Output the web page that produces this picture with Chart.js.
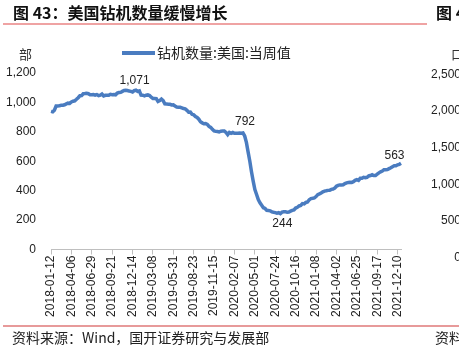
<!DOCTYPE html>
<html lang="zh">
<head>
<meta charset="utf-8" />
<title>美国钻机数量</title>
<script src="https://cdn.jsdelivr.net/npm/chart.js"></script>
<style>
  body { margin: 0; background: #fff; }
  canvas { display: block; }
</style>
</head>
<body>
<canvas id="rigs" width="459" height="354"></canvas>
<script>
// 钻机数量:美国:当周值 (weekly, from 2018-01-12)
const startDate = '2018-01-12';
const rigs2018 = [939, 936, 947, 975, 975, 978, 980, 981, 984, 990, 995, 993, 1003, 1008, 1011, 1021,
  1032, 1045, 1046, 1059, 1060, 1062, 1059, 1052, 1052, 1054, 1050, 1053, 1046, 1049, 1057, 1044,
  1048, 1048, 1048, 1055, 1053, 1054, 1052, 1063, 1067, 1068, 1075, 1081, 1082, 1081, 1077, 1075,
  1071, 1080, 1083];
const rigs2019 = [1075, 1078, 1050, 1049, 1045, 1049, 1051, 1047, 1035, 1027, 1026, 1025, 1006, 1012,
  1022, 1012, 991, 990, 988, 987, 983, 984, 975, 969, 967, 967, 963, 958, 956, 946, 934, 935, 919,
  916, 904, 898, 886, 868, 861, 855, 856, 851, 837, 830, 817, 806, 803, 802, 799, 804, 805, 805];
const rigs2020 = [796, 781, 796, 790, 796, 790, 790, 790, 792, 790, 792, 772, 728, 664, 602, 529, 465,
  408, 374, 339, 318, 301, 284, 279, 266, 265, 263, 256, 253, 251, 247, 250, 244, 254, 256, 256,
  254, 255, 261, 266, 269, 282, 287, 296, 299, 312, 310, 320, 323, 338, 346, 348];
const rigs2021 = [351, 360, 373, 378, 384, 392, 397, 399, 402, 403, 409, 411, 417, 430, 436, 439, 439,
  440, 448, 453, 455, 457, 456, 461, 470, 475, 470, 484, 484, 491, 488, 491, 500, 503, 508, 503,
  503, 512, 521, 528, 533, 543, 543, 544, 550, 556, 563, 569, 569, 576, 579, 586];
const rigValues = [].concat(rigs2018, rigs2019, rigs2020, rigs2021);

const tickLabels = ['2018-01-12', '2018-04-06', '2018-06-29', '2018-09-21', '2018-12-14', '2019-03-08',
  '2019-05-31', '2019-08-23', '2019-11-15', '2020-02-07', '2020-05-01', '2020-07-24', '2020-10-16',
  '2021-01-08', '2021-04-02', '2021-06-25', '2021-09-17', '2021-12-10'];

// labelled points: index into rigValues, label above or below
const noteIdx = [48, 113, 135, 201];
const noteBelow = [false, false, true, false];

const yTicks = [0, 200, 400, 600, 800, 1000, 1200];
const rightTicks = ['2,500', '2,000', '1,500', '1,000', '500', '0'];

// weekly category labels
const weekLabels = [];
let d = new Date(startDate + 'T00:00:00Z');
for (let i = 0; i < rigValues.length; i++) {
  weekLabels.push(d.toISOString().slice(0, 10));
  d = new Date(d.getTime() + 7 * 86400000);
}

const fmt = v => v.toLocaleString('en-US');

const pageText = {
  id: 'pageText',
  beforeDraw(chart) {
    const c = chart.ctx;
    c.save();
    c.fillStyle = '#fff';
    c.fillRect(0, 0, chart.width, chart.height);
    c.restore();
  },
  afterDraw(chart) {
    const c = chart.ctx;
    c.save();
    c.textBaseline = 'middle';
    c.fillStyle = '#111';
    // title
    c.font = 'bold 16px "Noto Sans CJK SC"';
    c.textAlign = 'left';
    c.fillText('图 43：美国钻机数量缓慢增长', 13, 13);
    c.fillText('图 4', 436, 13);
    c.strokeStyle = '#e04848';
    c.lineWidth = 1.2;
    c.beginPath(); c.moveTo(3, 24); c.lineTo(427, 24); c.stroke();

    // unit + legend
    c.font = '13px "Noto Sans CJK SC"';
    c.fillStyle = '#333';
    c.fillText('部', 19, 54);
    c.fillText('口', 451, 54);
    c.strokeStyle = '#4a7cc0';
    c.lineWidth = 4;
    c.beginPath(); c.moveTo(122, 53); c.lineTo(155, 53); c.stroke();
    c.font = '14px "Noto Sans CJK SC"';
    c.fillStyle = '#222';
    c.fillText('钻机数量:美国:当周值', 157, 53);

    // right-hand neighbour axis fragment
    c.font = '12px "Liberation Sans"';
    c.textAlign = 'right';
    c.fillStyle = '#222';
    rightTicks.forEach((t, i) => c.fillText(t, 461, 74.3 + i * 36.7));

    // footer
    c.strokeStyle = '#e79a9a';
    c.lineWidth = 2;
    c.beginPath(); c.moveTo(3, 326); c.lineTo(459, 326); c.stroke();
    c.textAlign = 'left';
    c.font = '14px "Noto Sans CJK SC"';
    c.fillStyle = '#222';
    c.fillText('资料来源：Wind，国开证券研究与发展部', 12, 338);
    c.fillText('资料', 435, 338);
    c.restore();
  }
};

const pointNotes = {
  id: 'pointNotes',
  afterDatasetsDraw(chart) {
    const c = chart.ctx;
    const meta = chart.getDatasetMeta(0);
    c.save();
    c.font = '12px "Liberation Sans"';
    c.fillStyle = '#222';
    c.textAlign = 'center';
    c.textBaseline = 'middle';
    noteIdx.forEach((idx, k) => {
      const p = meta.data[idx];
      const dy = noteBelow[k] ? 10 : -11;
      c.fillText(fmt(rigValues[idx]), p.x + 2, p.y + dy);
    });
    c.restore();
  }
};

new Chart(document.getElementById('rigs'), {
  type: 'line',
  data: {
    labels: weekLabels,
    datasets: [{
      label: '钻机数量:美国:当周值',
      data: rigValues,
      borderColor: '#4a7cc0',
      borderWidth: 3.5,
      pointRadius: 0,
      tension: 0,
      fill: false
    }]
  },
  options: {
    responsive: false,
    devicePixelRatio: 1,
    animation: false,
    layout: { padding: { top: 73, right: 58, left: 0, bottom: 0 } },
    plugins: { legend: { display: false }, tooltip: { enabled: false } },
    scales: {
      x: {
        type: 'category',
        offset: false,
        afterBuildTicks(scale) {
          scale.ticks = scale.ticks.filter(t => tickLabels.includes(weekLabels[t.value]));
        },
        afterFit(scale) { scale.height = 104.5; },
        ticks: {
          autoSkip: false,
          minRotation: 90,
          maxRotation: 90,
          padding: 1,
          color: '#222',
          font: { family: 'Liberation Sans', size: 12 }
        },
        grid: { display: true, drawOnChartArea: false, drawTicks: true, tickLength: 5, color: '#bfbfbf' },
        border: { display: true, color: '#bfbfbf', width: 1 }
      },
      y: {
        min: 0,
        max: 1200,
        afterBuildTicks(scale) { scale.ticks = yTicks.map(v => ({ value: v })); },
        afterFit(scale) { scale.width = 51; },
        ticks: {
          padding: 15,
          color: '#222',
          font: { family: 'Liberation Sans', size: 12 },
          callback: v => fmt(v)
        },
        grid: { display: false, drawTicks: false },
        border: { display: false }
      }
    }
  },
  plugins: [pageText, pointNotes]
});
</script>
</body>
</html>
